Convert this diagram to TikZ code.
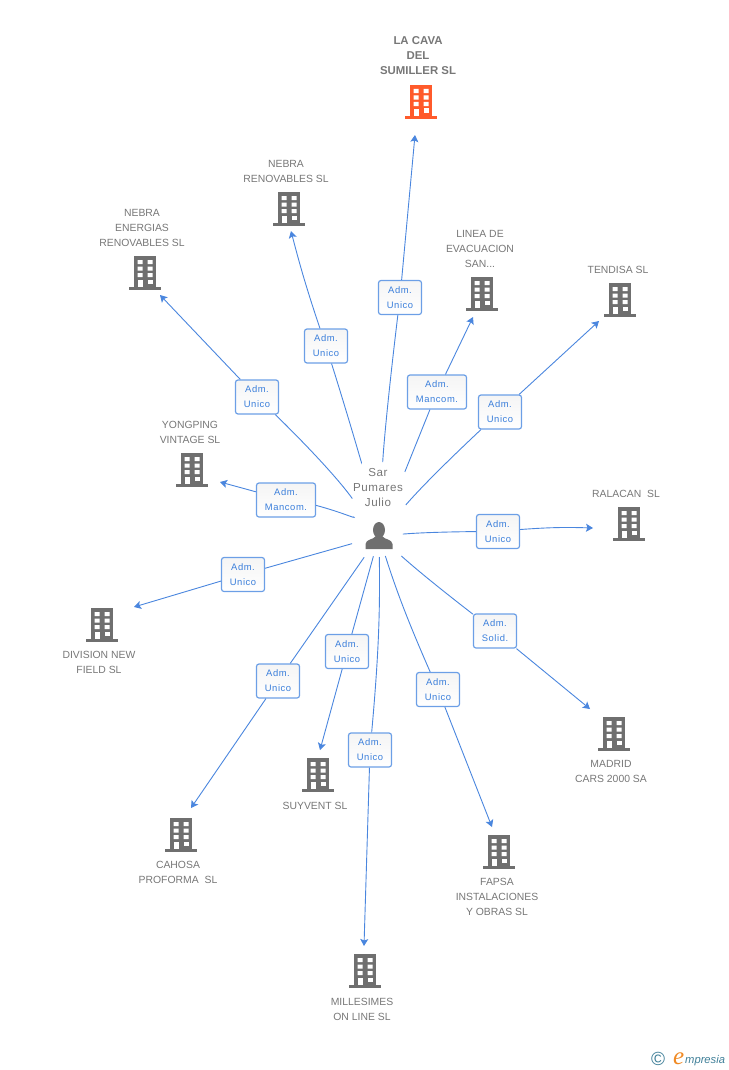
\documentclass[tikz,border=0pt]{standalone}
\usepackage{fontspec}
\setmainfont{Liberation Sans}
\newfontfamily\rolefont[LetterSpace=6]{Liberation Sans}
\newfontfamily\namefont[LetterSpace=5]{Liberation Sans}
\newfontfamily\logofont{Liberation Serif}
\usetikzlibrary{arrows.meta}
\definecolor{linkblue}{HTML}{4A86DE}
\definecolor{boxblue}{HTML}{6C9FE6}
\definecolor{roleblue}{HTML}{3B7FDB}
\definecolor{captiongray}{HTML}{777777}
\definecolor{bldggray}{HTML}{6F6F6F}
\definecolor{bldgorange}{HTML}{FF5A2B}
\definecolor{logoteal}{HTML}{3F7F98}
\definecolor{logoorange}{HTML}{F08A24}
\tikzset{
    caption/.style={align=center, text=captiongray, inner sep=0pt, font=\fontsize{10.4}{15}\selectfont},
    rolebox/.style={draw=boxblue, line width=1.2pt, rounded corners=2.5pt, top color=black!4, bottom color=white,
        minimum height=34pt, inner sep=0pt, align=center, text=roleblue,
        font=\rolefont\fontsize{9.4}{15}\selectfont},
    link/.style={draw=linkblue, line width=0.9pt},
    linkarrow/.style={link, -{Stealth[length=7pt,width=8pt,inset=1.5pt]}},
    bldg/.style={minimum width=34pt, minimum height=36pt, inner sep=0pt},
    persona/.style={minimum width=30pt, minimum height=30pt, inner sep=0pt}
}
\newcommand{\bldgicon}[2]{
    \begin{scope}[shift={(#1.center)}]
        \fill[#2] (-11,-17) rectangle (11,15);
        \fill[#2] (-16,14) rectangle (16,17);
        \fill[white] (-7.5,-13) rectangle ++(5,4.2) (2.5,-13) rectangle ++(5,4.2);
        \fill[white] (-7.5,-6.5) rectangle ++(5,4.2) (2.5,-6.5) rectangle ++(5,4.2);
        \fill[white] (-7.5,0) rectangle ++(5,4.2) (2.5,0) rectangle ++(5,4.2);
        \fill[white] (-7.5,7) rectangle (-2.5,14);
        \fill[white] (2.5,6.5) rectangle (7.5,11);
    \end{scope}
}
% company: name, building x, y, caption x, y, caption, arrow tip x, y
\newcommand{\company}[8]{
    \node[bldg] (b#1) at (#2,#3) {};
    \bldgicon{b#1}{bldggray}
    \node[caption] (t#1) at (#4,#5) {#6};
    \coordinate (e#1) at (#7,#8);
}
% role: company, box x, y, width, text, start gap, bend, bend
\newcommand{\rolelink}[8]{
    \node[rolebox, minimum width=#4pt] (r#1) at (#2,#3) {#5};
    \draw[link, shorten <=#6pt] (person.center) to[bend left=#7] (r#1);
    \draw[linkarrow] (r#1) to[bend left=#8] (e#1);
}
\begin{document}
\begin{tikzpicture}[x=1pt, y=-1pt]
    \useasboundingbox (0,0) rectangle (728,1070);

    % Main company and person
    \node[bldg] (bcava) at (421,102) {};
    \bldgicon{bcava}{bldgorange}
    \node[caption, font=\bfseries\fontsize{11.4}{15}\selectfont] (tcava) at (418,56) {LA CAVA\\DEL\\SUMILLER SL};
    \coordinate (ecava) at (415,135);
    \node[persona] (person) at (379,536) {};
    \fill[bldggray] (379,530) ellipse (6 and 8);
    \fill[bldggray] (365.5,549) -- (365.5,544) .. controls (366,539) and (373,540) .. (376,536)
        -- (382,536) .. controls (385,540) and (392,539) .. (392.5,544) -- (392.5,549) -- cycle;
    \node[align=center, inner sep=0pt, text=captiongray, font=\namefont\fontsize{11.6}{15}\selectfont] (name) at (378,488) {Sar\\Pumares\\Julio};

    % Other companies
    \company{nebra}{289}{209}{286}{171}{NEBRA\\RENOVABLES SL}{291}{231}
    \company{energias}{145}{273}{142}{228}{NEBRA\\ENERGIAS\\RENOVABLES SL}{160}{295}
    \company{linea}{482}{294}{480}{249}{LINEA DE\\EVACUACION\\SAN...}{473}{317}
    \company{tendisa}{620}{300}{618}{270}{TENDISA SL}{599}{321}
    \company{ralacan}{629}{524}{626}{494}{RALACAN\ \ SL}{593}{528}
    \company{yongping}{192}{470}{190}{432}{YONGPING\\VINTAGE SL}{220}{482}
    \company{division}{102}{625}{99}{662}{DIVISION NEW\\FIELD SL}{134}{607}
    \company{cahosa}{181}{835}{178}{872}{CAHOSA\\PROFORMA\ \ SL}{191}{808}
    \company{suyvent}{318}{775}{315}{806}{SUYVENT SL}{320}{750}
    \company{millesimes}{365}{971}{362}{1009}{MILLESIMES\\ON LINE SL}{364}{946}
    \company{fapsa}{499}{852}{497}{897}{FAPSA\\INSTALACIONES\\Y OBRAS SL}{492}{827}
    \company{madrid}{614}{734}{611}{771}{MADRID\\CARS 2000 SA}{590}{709}

    % Roles and links
    \rolelink{cava}{400}{297.5}{43}{Adm.\\Unico}{74}{2}{0}
    \rolelink{nebra}{326}{346}{43}{Adm.\\Unico}{76}{-2}{2}
    \rolelink{energias}{257}{397}{43}{Adm.\\Unico}{46}{-5}{0}
    \rolelink{linea}{437}{392}{59}{Adm.\\Mancom.}{78}{0}{0}
    \rolelink{tendisa}{500}{412}{43}{Adm.\\Unico}{41}{3}{0}
    \rolelink{ralacan}{498}{531.5}{43}{Adm.\\Unico}{24}{2}{3}
    \rolelink{yongping}{286}{500}{59}{Adm.\\Mancom.}{32}{-11}{0}
    \rolelink{division}{243}{574.5}{43}{Adm.\\Unico}{28}{0}{0}
    \rolelink{cahosa}{278}{681}{43}{Adm.\\Unico}{26}{0}{0}
    \rolelink{suyvent}{347}{651.5}{43}{Adm.\\Unico}{21}{0}{0}
    \rolelink{millesimes}{370}{750}{43}{Adm.\\Unico}{21}{3}{0}
    \rolelink{fapsa}{438}{689.5}{43}{Adm.\\Unico}{21}{-3}{0}
    \rolelink{madrid}{495}{631}{43}{Adm.\\Solid.}{30}{-2}{0}

    % Logo
    \node[inner sep=0pt, text=logoteal, font=\fontsize{19}{19}\selectfont] (copy) at (658,1058.5) {©};
    \node[inner sep=0pt, anchor=base west, text=logoorange, font=\logofont\itshape\fontsize{25}{25}\selectfont] (loge) at (673,1064) {e};
    \node[inner sep=0pt, anchor=base west, text=logoteal, font=\itshape\fontsize{11.2}{11.2}\selectfont] (logtxt) at (685,1063) {mpresia};
\end{tikzpicture}
\end{document}
